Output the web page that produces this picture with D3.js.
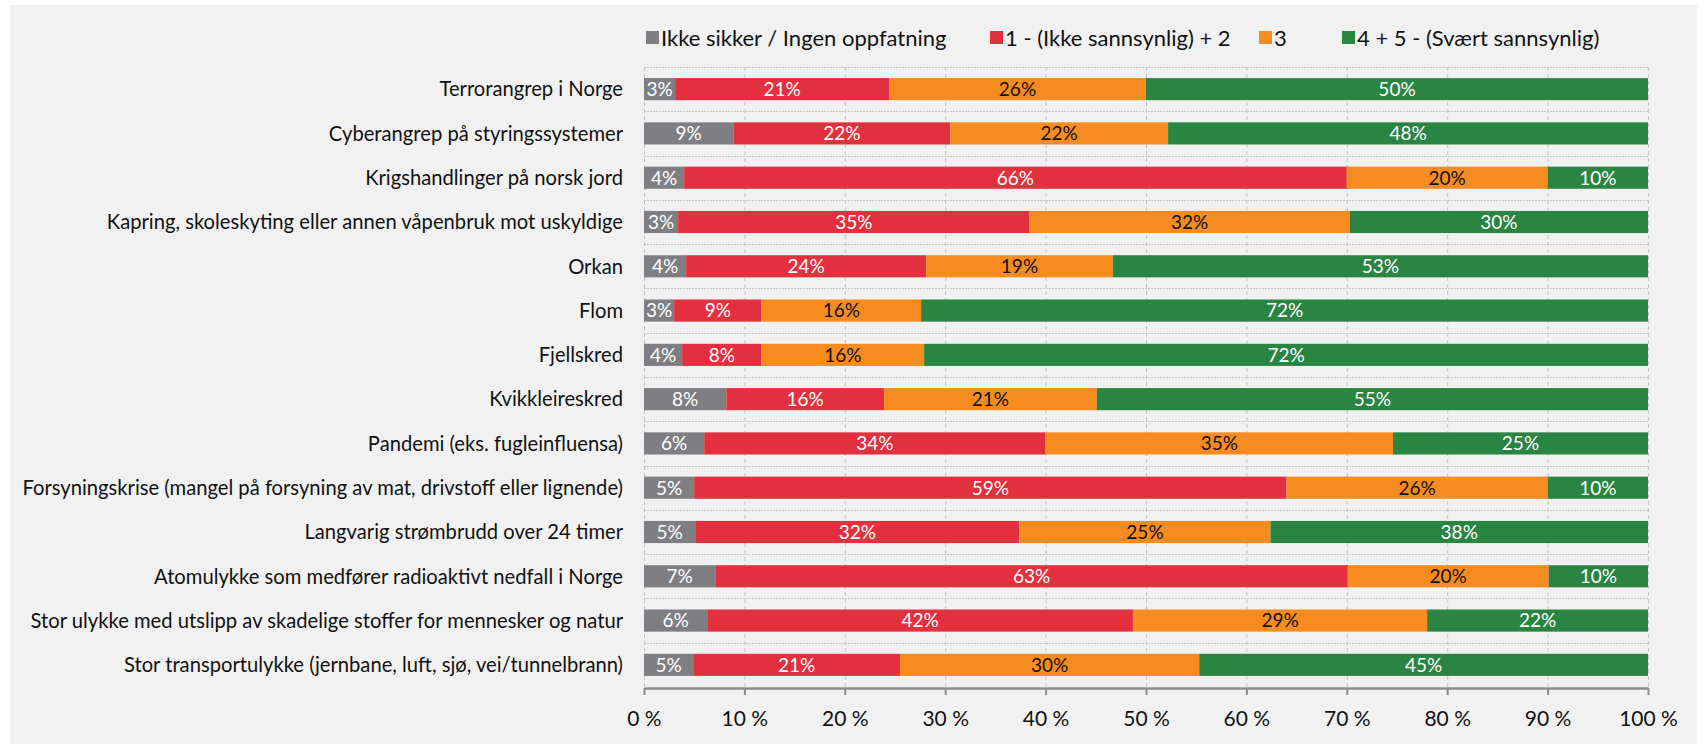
<!DOCTYPE html>
<html>
<head>
<meta charset="utf-8">
<script src="https://cdn.jsdelivr.net/npm/d3@7"></script>
<style>
  html, body { margin: 0; padding: 0; background: #ffffff; }
  svg { display: block; font-family: Lato, "Open Sans", sans-serif; }
</style>
</head>
<body>
<div id="chart"></div>
<script>
// Categories, top to bottom
const categories = [
  'Terrorangrep i Norge',
  'Cyberangrep på styringssystemer',
  'Krigshandlinger på norsk jord',
  'Kapring, skoleskyting eller annen våpenbruk mot uskyldige',
  'Orkan',
  'Flom',
  'Fjellskred',
  'Kvikkleireskred',
  'Pandemi (eks. fugleinfluensa)',
  'Forsyningskrise (mangel på forsyning av mat, drivstoff eller lignende)',
  'Langvarig strømbrudd over 24 timer',
  'Atomulykke som medfører radioaktivt nedfall i Norge',
  'Stor ulykke med utslipp av skadelige stoffer for mennesker og natur',
  'Stor transportulykke (jernbane, luft, sjø, vei/tunnelbrann)'
];

const seriesNames = ['Ikke sikker / Ingen oppfatning', '1 - (Ikke sannsynlig) + 2', '3', '4 + 5 - (Svært sannsynlig)'];

// Shares in percent (labels are rounded)
const notSure  = [3.1, 8.9, 4, 3.4, 4.2, 3, 3.8, 8.2, 6, 5, 5.1, 7.1, 6.3, 4.9];
const unlikely = [21.3, 21.6, 66, 35, 23.9, 8.7, 7.9, 15.7, 34, 59, 32.3, 63, 42.4, 20.6];
const neutral  = [25.6, 21.7, 20, 31.9, 18.6, 15.9, 16.2, 21.2, 34.6, 26, 25, 20, 29.3, 29.8];
const likely   = [50, 47.8, 10, 29.7, 53.3, 72.4, 72.1, 54.9, 25.4, 10, 37.6, 9.9, 22, 44.7];

const xTicks = [0, 10, 20, 30, 40, 50, 60, 70, 80, 90, 100];

const colors = ['#7f7f83', '#e3303e', '#f68b20', '#2a8442'];
const labelColors = ['#ffffff', '#ffffff', '#111111', '#ffffff'];

const W = 1705;
const H = 744;
const plotLeft = 644;
const plotRight = 1648;
const plotTop = 67;
const plotBottom = 687;

const svg = d3.select('#chart')
  .append('svg')
  .attr('width', W)
  .attr('height', H);

// Grey panel behind everything
svg.append('rect')
  .attr('x', 10).attr('y', 5)
  .attr('width', 1687).attr('height', H - 5)
  .attr('fill', '#f1f1f1');

const data = categories.map((c, i) => ({
  name: c,
  values: [notSure[i], unlikely[i], neutral[i], likely[i]]
}));

const stacked = d3.stack()
  .keys([0, 1, 2, 3])
  .value((d, k) => d.values[k])(data);

const x = d3.scaleLinear().domain([0, 100]).range([plotLeft, plotRight]);
const y = d3.scaleBand().domain(categories).range([plotTop, plotBottom]).paddingInner(0.5).paddingOuter(0.25);

// Grid: dashed verticals, dotted horizontals at band boundaries
const grid = svg.append('g');
grid.selectAll('line.v')
  .data(xTicks)
  .enter().append('line')
  .attr('class', 'v')
  .attr('x1', (d) => x(d) + 0.5).attr('x2', (d) => x(d) + 0.5)
  .attr('y1', plotTop).attr('y2', plotBottom)
  .attr('stroke', '#c4c4c4')
  .attr('stroke-width', 1)
  .attr('stroke-dasharray', '4,3');

const step = y.step();
grid.selectAll('line.h')
  .data(d3.range(categories.length))
  .enter().append('line')
  .attr('class', 'h')
  .attr('x1', plotLeft).attr('x2', plotRight)
  .attr('y1', (i) => Math.round(y(categories[i]) - step * 0.25) + 0.5)
  .attr('y2', (i) => Math.round(y(categories[i]) - step * 0.25) + 0.5)
  .attr('stroke', '#c4c4c4')
  .attr('stroke-width', 1)
  .attr('stroke-dasharray', '2,1');

// Bars
const layers = svg.append('g').selectAll('g')
  .data(stacked)
  .enter().append('g')
  .attr('fill', (d) => colors[d.key]);

layers.selectAll('rect')
  .data((d) => d)
  .enter().append('rect')
  .attr('x', (d) => x(d[0]))
  .attr('y', (d) => y(d.data.name))
  .attr('width', (d) => x(d[1]) - x(d[0]))
  .attr('height', y.bandwidth());

// Segment labels
const labels = svg.append('g').selectAll('g')
  .data(stacked)
  .enter().append('g')
  .attr('fill', (d) => labelColors[d.key]);

labels.selectAll('text')
  .data((d) => d)
  .enter().append('text')
  .attr('x', (d) => (x(d[0]) + x(d[1])) / 2)
  .attr('y', (d) => y(d.data.name) + y.bandwidth() / 2)
  .attr('dy', '0.36em')
  .attr('text-anchor', 'middle')
  .style('font-size', '19px')
  .text((d) => Math.round(d[1] - d[0]) + '%');

// Category labels
svg.append('g').selectAll('text')
  .data(categories)
  .enter().append('text')
  .attr('x', plotLeft - 21)
  .attr('y', (d) => y(d) + y.bandwidth() / 2)
  .attr('dy', '0.36em')
  .attr('text-anchor', 'end')
  .attr('fill', '#111111')
  .style('font-size', '20.2px')
  .text((d) => d);

// X axis
const axis = svg.append('g')
  .attr('transform', `translate(0, ${plotBottom + 1})`)
  .call(d3.axisBottom(x).tickValues(xTicks).tickSize(7).tickSizeOuter(0).tickPadding(16)
    .tickFormat((d) => d + ' %'));

axis.select('.domain').attr('stroke', '#8c8c8c').attr('stroke-width', 2.5);
axis.selectAll('.tick line').attr('stroke', '#8c8c8c').attr('stroke-width', 2);
axis.selectAll('.tick text')
  .attr('fill', '#111111')
  .style('font-family', 'Lato, "Open Sans", sans-serif')
  .style('font-size', '21px');

// Legend
const legendX = [646, 990, 1259, 1342];
const legend = svg.append('g').selectAll('g')
  .data(seriesNames)
  .enter().append('g')
  .attr('transform', (d, i) => `translate(${legendX[i]}, 38)`);

legend.append('rect')
  .attr('x', 0).attr('y', -7)
  .attr('width', 13).attr('height', 13)
  .attr('fill', (d, i) => colors[i]);

legend.append('text')
  .attr('x', 15)
  .attr('dy', '0.36em')
  .attr('fill', '#111111')
  .style('font-size', '22px')
  .text((d) => d);
</script>
</body>
</html>
